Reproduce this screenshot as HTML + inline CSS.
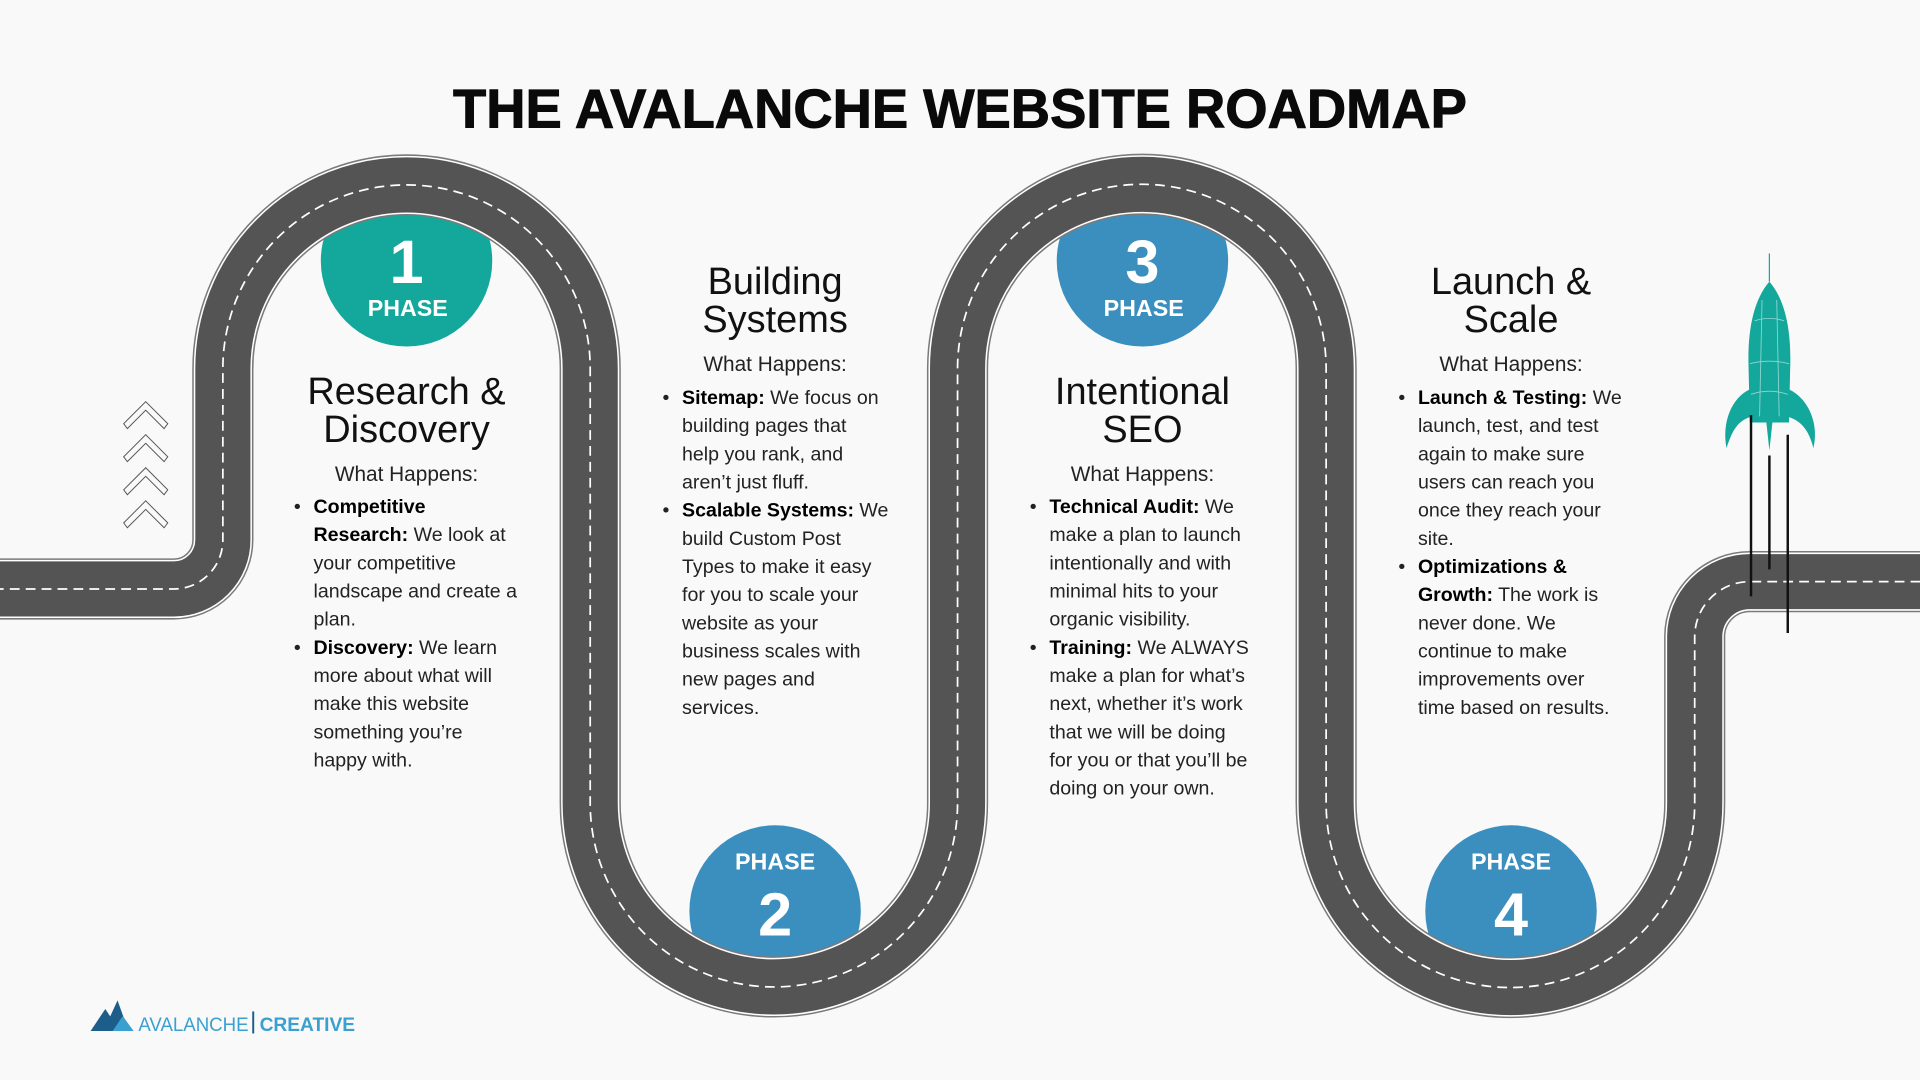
<!DOCTYPE html>
<html><head><meta charset="utf-8"><style>
html,body{margin:0;padding:0;background:#f9f9f9;}
svg{display:block}
text{font-family:"Liberation Sans",sans-serif;}
.h{font-size:31px;fill:#111;text-anchor:middle}
.w{font-size:17px;fill:#222;text-anchor:middle}
.b{font-size:16px;fill:#222}
.b tspan.k{font-weight:bold;fill:#000}
</style></head><body>
<svg width="1920" height="1080" viewBox="0 0 1568 882" xmlns="http://www.w3.org/2000/svg">
<rect width="1568" height="882" fill="#f9f9f9"/>
<text x="784" y="104" text-anchor="middle" font-size="45" font-weight="bold" fill="#0a0a0a" stroke="#0a0a0a" stroke-width="0.8" textLength="828" lengthAdjust="spacingAndGlyphs">THE AVALANCHE WEBSITE ROADMAP</text>
<circle cx="332" cy="213" r="70" fill="#14a89c"/>
<circle cx="933" cy="213" r="70" fill="#3a8fbf"/>
<circle cx="633" cy="744" r="70" fill="#3a8fbf"/>
<circle cx="1234" cy="744" r="70" fill="#3a8fbf"/>
<g fill="none" stroke-linejoin="round">
<path id="r" d="M-5,481 H142 A40,40 0 0 0 182,441 V301 A150,150 0 0 1 482,301 V656 A150,150 0 0 0 782,656 V301 A150,150 0 0 1 1083,301 V656 A150,150 0 0 0 1384,656 V520 A45,45 0 0 1 1429,475 H1575"/>
<use href="#r" stroke="#7a7a7a" stroke-width="50"/>
<use href="#r" stroke="#ffffff" stroke-width="47.5"/>
<use href="#r" stroke="#545454" stroke-width="45"/>
<use href="#r" stroke="#ffffff" stroke-width="1.4" stroke-dasharray="8 5"/>
</g>
<g fill="#fff" font-weight="bold" text-anchor="middle">
<text x="332" y="231" font-size="50">1</text>
<text x="333" y="258" font-size="19">PHASE</text>
<text x="933" y="231" font-size="50">3</text>
<text x="934" y="258" font-size="19">PHASE</text>
<text x="633" y="710" font-size="19">PHASE</text>
<text x="633" y="764" font-size="50">2</text>
<text x="1234" y="710" font-size="19">PHASE</text>
<text x="1234" y="764" font-size="50">4</text>
</g>
<text class="h" x="332" y="330">Research &amp;</text>
<text class="h" x="332" y="361">Discovery</text>
<text class="w" x="332" y="393">What Happens:</text>
<text class="b" x="240" y="419">•</text>
<text class="b" x="256" y="419"><tspan class="k">Competitive</tspan></text>
<text class="b" x="256" y="442"><tspan class="k">Research:</tspan> We look at</text>
<text class="b" x="256" y="465">your competitive</text>
<text class="b" x="256" y="488">landscape and create a</text>
<text class="b" x="256" y="511">plan.</text>
<text class="b" x="240" y="534">•</text>
<text class="b" x="256" y="534"><tspan class="k">Discovery:</tspan> We learn</text>
<text class="b" x="256" y="557">more about what will</text>
<text class="b" x="256" y="580">make this website</text>
<text class="b" x="256" y="603">something you’re</text>
<text class="b" x="256" y="626">happy with.</text>
<text class="h" x="633" y="240">Building</text>
<text class="h" x="633" y="271">Systems</text>
<text class="w" x="633" y="303">What Happens:</text>
<text class="b" x="541" y="330">•</text>
<text class="b" x="557" y="330"><tspan class="k">Sitemap:</tspan> We focus on</text>
<text class="b" x="557" y="353">building pages that</text>
<text class="b" x="557" y="376">help you rank, and</text>
<text class="b" x="557" y="399">aren’t just fluff.</text>
<text class="b" x="541" y="422">•</text>
<text class="b" x="557" y="422"><tspan class="k">Scalable Systems:</tspan> We</text>
<text class="b" x="557" y="445">build Custom Post</text>
<text class="b" x="557" y="468">Types to make it easy</text>
<text class="b" x="557" y="491">for you to scale your</text>
<text class="b" x="557" y="514">website as your</text>
<text class="b" x="557" y="537">business scales with</text>
<text class="b" x="557" y="560">new pages and</text>
<text class="b" x="557" y="583">services.</text>
<text class="h" x="933" y="330">Intentional</text>
<text class="h" x="933" y="361">SEO</text>
<text class="w" x="933" y="393">What Happens:</text>
<text class="b" x="841" y="419">•</text>
<text class="b" x="857" y="419"><tspan class="k">Technical Audit:</tspan> We</text>
<text class="b" x="857" y="442">make a plan to launch</text>
<text class="b" x="857" y="465">intentionally and with</text>
<text class="b" x="857" y="488">minimal hits to your</text>
<text class="b" x="857" y="511">organic visibility.</text>
<text class="b" x="841" y="534">•</text>
<text class="b" x="857" y="534"><tspan class="k">Training:</tspan> We ALWAYS</text>
<text class="b" x="857" y="557">make a plan for what’s</text>
<text class="b" x="857" y="580">next, whether it’s work</text>
<text class="b" x="857" y="603">that we will be doing</text>
<text class="b" x="857" y="626">for you or that you’ll be</text>
<text class="b" x="857" y="649">doing on your own.</text>
<text class="h" x="1234" y="240">Launch &amp;</text>
<text class="h" x="1234" y="271">Scale</text>
<text class="w" x="1234" y="303">What Happens:</text>
<text class="b" x="1142" y="330">•</text>
<text class="b" x="1158" y="330"><tspan class="k">Launch &amp; Testing:</tspan> We</text>
<text class="b" x="1158" y="353">launch, test, and test</text>
<text class="b" x="1158" y="376">again to make sure</text>
<text class="b" x="1158" y="399">users can reach you</text>
<text class="b" x="1158" y="422">once they reach your</text>
<text class="b" x="1158" y="445">site.</text>
<text class="b" x="1142" y="468">•</text>
<text class="b" x="1158" y="468"><tspan class="k">Optimizations &amp;</tspan></text>
<text class="b" x="1158" y="491"><tspan class="k">Growth:</tspan> The work is</text>
<text class="b" x="1158" y="514">never done. We</text>
<text class="b" x="1158" y="537">continue to make</text>
<text class="b" x="1158" y="560">improvements over</text>
<text class="b" x="1158" y="583">time based on results.</text>
<g fill="none" stroke="#555" stroke-width="0.8">
<path d="M101,346 L119,328 L137,346 L134,350 L119,335 L104,350 Z"/>
<path d="M101,373 L119,355 L137,373 L134,377 L119,362 L104,377 Z"/>
<path d="M101,400 L119,382 L137,400 L134,404 L119,389 L104,404 Z"/>
<path d="M101,427 L119,409 L137,427 L134,431 L119,416 L104,431 Z"/>
</g>
<g>
<path d="M1445,230 C1432,245 1427,270 1428,300 L1429,345 L1461,345 L1462,300 C1463,270 1458,245 1445,230 Z" fill="#14a89c"/>
<path d="M1429,318 C1414,325 1406,345 1410,366 C1415,350 1420,343 1431,340 Z" fill="#14a89c"/>
<path d="M1461,318 C1476,325 1486,345 1481,366 C1477,350 1470,343 1459,340 Z" fill="#14a89c"/>
<path d="M1442,340 L1445,368 L1448,340 Z" fill="#14a89c"/>
<g stroke="#8fd8d0" stroke-width="0.7" fill="none">
<path d="M1433,262 Q1445,258 1457,262"/><path d="M1429,297 Q1445,293 1461,297"/><path d="M1430,322 Q1445,317 1460,322"/>
<path d="M1439,245 L1437,340"/><path d="M1451,245 L1453,340"/>
</g>
<line x1="1445" y1="207" x2="1445" y2="230" stroke="#14a89c" stroke-width="1"/>
<g stroke="#111" stroke-width="2">
<line x1="1430" y1="339" x2="1430" y2="487"/>
<line x1="1445" y1="372" x2="1445" y2="465"/>
<line x1="1460" y1="355" x2="1460" y2="517"/>
</g>
</g>
<path d="M74,842 L86,824 L90,830 L96,817 L101,831 L109,842 Z" fill="#1c5d8a"/>
<path d="M92,842 L100,830 L109,842 Z" fill="#3aa0d0"/>
<text x="113" y="842" font-size="16" fill="#3aa0d0" textLength="90" lengthAdjust="spacingAndGlyphs">AVALANCHE</text>
<rect x="206" y="826" width="1.6" height="18" fill="#1c5d8a"/>
<text x="212" y="842" font-size="16" fill="#3aa0d0" font-weight="bold" textLength="78" lengthAdjust="spacingAndGlyphs">CREATIVE</text>
</svg>
</body></html>
